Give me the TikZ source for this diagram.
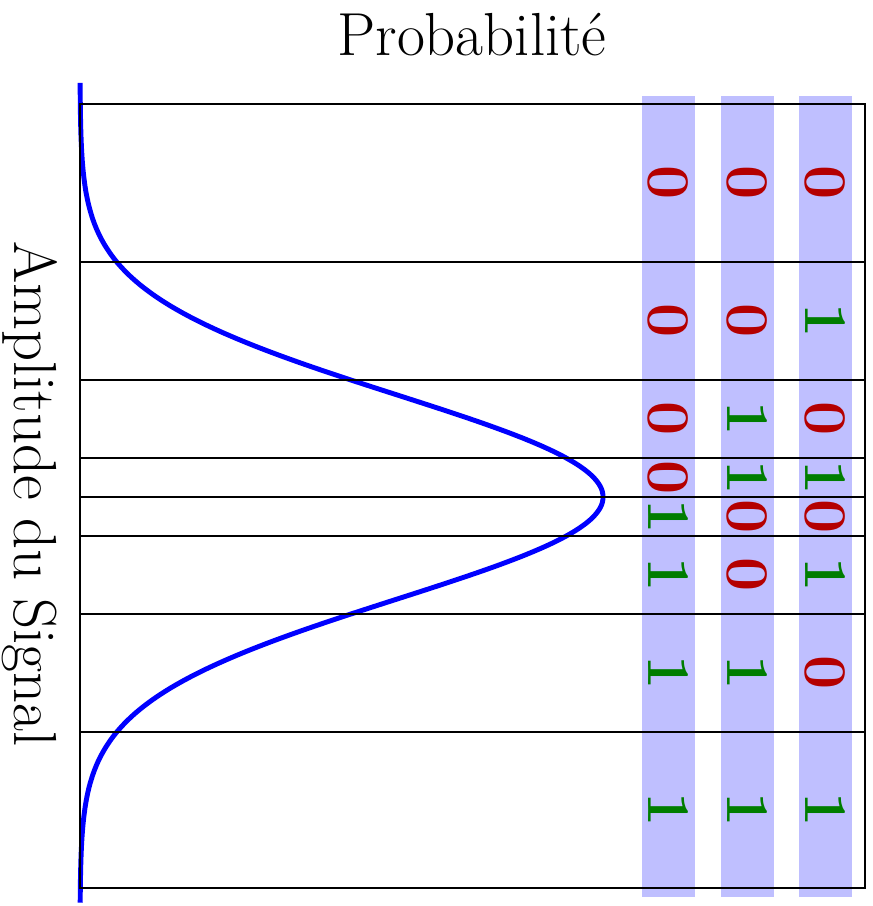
\documentclass[tikz,border=0pt]{standalone}
\usepackage{amsmath}

\definecolor{bitred}{RGB}{180,0,0}
\definecolor{bitgreen}{RGB}{0,125,0}
\definecolor{barblue}{RGB}{191,191,255}

\tikzset{
    bit/.style={rotate=-90, inner sep=0pt, font=\LARGE\bfseries},
    bitzero/.style={bit, text=bitred},
    bitone/.style={bit, text=bitgreen},
    level/.style={line width=0.8pt, black}
}

\begin{document}
\begin{tikzpicture}[x=0.01cm, y=-0.01cm]

    \useasboundingbox (0,0) rectangle (873,906);

    % ==========================================
    % 1. CODE COLUMNS (Background Bars)
    % ==========================================
    \fill[barblue] (642,96) rectangle (695,897);
    \fill[barblue] (721,96) rectangle (774,897);
    \fill[barblue] (799,96) rectangle (852,897);

    % ==========================================
    % 2. PROBABILITY DENSITY (Gaussian)
    % ==========================================
    \draw[blue, line width=1.4pt] plot[domain=-4.06:3.98, samples=200, smooth]
        ({80+523*exp(-\x*\x/2)}, {497+102*\x});

    % ==========================================
    % 3. DECISION LEVELS
    % ==========================================
    \draw[level] (80,104) rectangle (865,888);
    \draw[level] (80,262) -- (865,262);
    \draw[level] (80,380) -- (865,380);
    \draw[level] (80,458) -- (865,458);
    \draw[level] (80,497) -- (865,497);
    \draw[level] (80,536) -- (865,536);
    \draw[level] (80,614) -- (865,614);
    \draw[level] (80,732) -- (865,732);

    % ==========================================
    % 4. BINARY CODES
    % ==========================================
    \node[bitzero] (B1a) at (668.5,183) {0}; \node[bitzero] (B1b) at (747.5,183) {0}; \node[bitzero] (B1c) at (825.5,183) {0};
    \node[bitzero] (B2a) at (668.5,321) {0}; \node[bitzero] (B2b) at (747.5,321) {0}; \node[bitone]  (B2c) at (825.5,321) {1};
    \node[bitzero] (B3a) at (668.5,419) {0}; \node[bitone]  (B3b) at (747.5,419) {1}; \node[bitzero] (B3c) at (825.5,419) {0};
    \node[bitzero] (B4a) at (668.5,477.5) {0}; \node[bitone] (B4b) at (747.5,477.5) {1}; \node[bitone] (B4c) at (825.5,477.5) {1};
    \node[bitone]  (B5a) at (668.5,516.5) {1}; \node[bitzero] (B5b) at (747.5,516.5) {0}; \node[bitzero] (B5c) at (825.5,516.5) {0};
    \node[bitone]  (B6a) at (668.5,575) {1}; \node[bitzero] (B6b) at (747.5,575) {0}; \node[bitone]  (B6c) at (825.5,575) {1};
    \node[bitone]  (B7a) at (668.5,673) {1}; \node[bitone]  (B7b) at (747.5,673) {1}; \node[bitzero] (B7c) at (825.5,673) {0};
    \node[bitone]  (B8a) at (668.5,810) {1}; \node[bitone]  (B8b) at (747.5,810) {1}; \node[bitone]  (B8c) at (825.5,810) {1};

    % ==========================================
    % 5. AXIS LABELS
    % ==========================================
    \node[font=\LARGE, anchor=base, inner sep=0pt] (ProbLabel) at (472,55) {Probabilit\'e};
    \node[font=\LARGE, rotate=-90, inner sep=0pt] (AmpLabel) at (30,494) {Amplitude du Signal};

\end{tikzpicture}
\end{document}
